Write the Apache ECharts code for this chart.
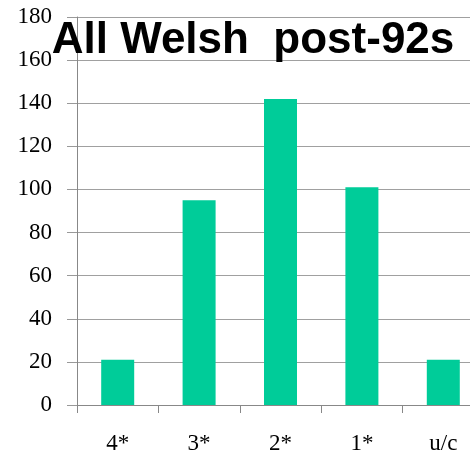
<!DOCTYPE html>
<html>
<head>
<meta charset="utf-8">
<script src="https://cdn.jsdelivr.net/npm/echarts@6/dist/echarts.min.js"></script>
<style>html,body{margin:0;padding:0;background:#fff;overflow:hidden;}#c{width:490px;height:455px;}</style>
</head>
<body>
<div id="c"></div>
<script>
const categories = ['4*', '3*', '2*', '1*', 'u/c'];
const values = [21, 95, 142, 101, 21];
const titleText = 'All Welsh  post-92s';

const chart = echarts.init(document.getElementById('c'), null, {renderer: 'canvas'});
chart.setOption({
  animation: false,
  backgroundColor: '#ffffff',
  title: {
    text: titleText,
    left: 248, top: 14, textAlign: 'center',
    textStyle: {fontFamily: 'Liberation Sans, Arial, sans-serif', fontWeight: 'bold', fontSize: 44, color: '#000'}
  },
  grid: {left: 77, top: 17, bottom: 48, right: 6, containLabel: false},
  xAxis: {
    type: 'category', data: categories, boundaryGap: true,
    axisLine: {lineStyle: {color: '#888', width: 1}},
    axisTick: {show: true, length: 8, lineStyle: {color: '#888'}},
    axisLabel: {margin: 27, fontFamily: 'Liberation Serif, Times New Roman, serif', fontSize: 23, color: '#000'}
  },
  yAxis: {
    type: 'value', min: 0, max: 180, interval: 20,
    axisLine: {show: true, lineStyle: {color: '#888', width: 1}},
    axisTick: {show: true, length: 10, lineStyle: {color: '#999'}},
    axisLabel: {margin: 25, fontFamily: 'Liberation Serif, Times New Roman, serif', fontSize: 23, color: '#000'},
    splitLine: {show: true, lineStyle: {color: '#a0a0a0', width: 1}}
  },
  series: [{
    type: 'bar', data: values, barWidth: 33,
    itemStyle: {color: '#00cc99'}
  }]
});
</script>
</body>
</html>
